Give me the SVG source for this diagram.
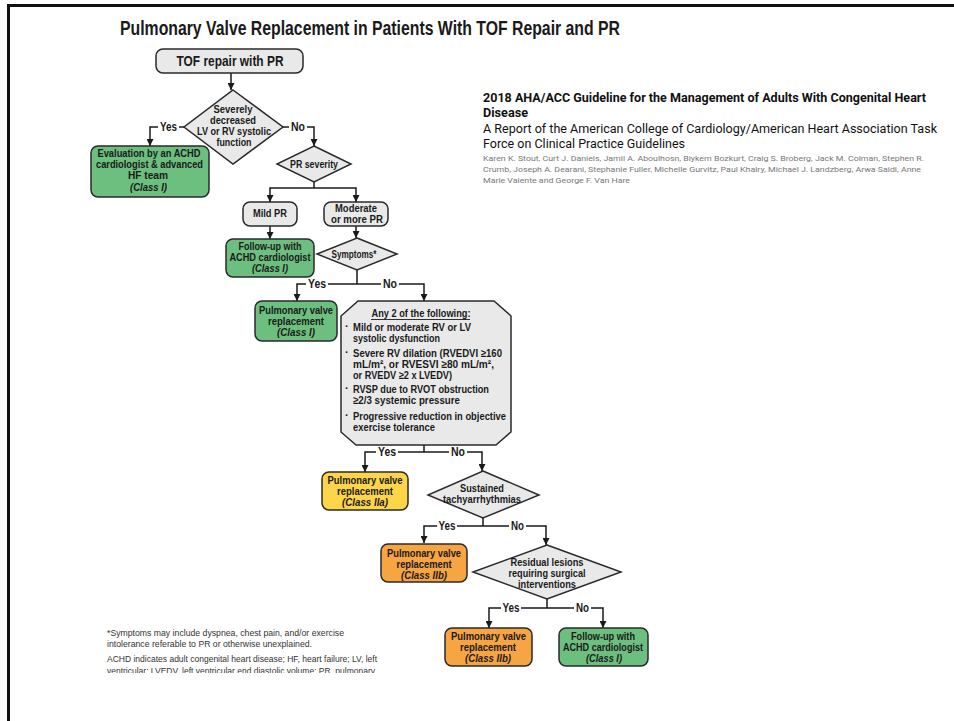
<svg xmlns="http://www.w3.org/2000/svg" width="954" height="721" viewBox="0 0 954 721">
<style>
.t{font-family:"Liberation Sans",Arial,sans-serif;font-weight:bold;fill:#1a1a1a;text-anchor:middle;dominant-baseline:central}
.s{font-size:11px}
.yn{font-size:12.5px}
.l{text-anchor:start}
.box{stroke:#2a2a2a;stroke-width:1.5}
.gray{fill:#e9e9e9}
.green{fill:#6cbf7e}
.yellow{fill:#fdd548}
.orange{fill:#f7a443}
.c{fill:none;stroke:#1a1a1a;stroke-width:1.5}
.hd{font-family:Roboto,"Liberation Sans",sans-serif;fill:#111;dominant-baseline:central}
.au{font-family:Roboto,"Liberation Sans",sans-serif;font-size:8px;fill:#777;dominant-baseline:central}
.fn{font-family:"Liberation Sans",Arial,sans-serif;font-size:9.5px;fill:#333;dominant-baseline:central}
</style>
<defs>
<marker id="ah" viewBox="0 0 10 10" refX="10" refY="5" markerWidth="7" markerHeight="7" markerUnits="userSpaceOnUse" orient="auto">
<path d="M0,0 L10,5 L0,10 z" fill="#1a1a1a"/>
</marker>
<clipPath id="fnclip"><rect x="0" y="600" width="450" height="73"/></clipPath>
</defs>
<rect width="954" height="721" fill="#fff"/>
<g id="frame">
<line x1="7" y1="5.5" x2="954" y2="5.5" stroke="#111" stroke-width="3"/>
<line x1="8.5" y1="4" x2="8.5" y2="721" stroke="#111" stroke-width="3"/>
</g>
<text id="title" class="t" x="370" y="27.5" style="font-size:20px" textLength="500" lengthAdjust="spacingAndGlyphs">Pulmonary Valve Replacement in Patients With TOF Repair and PR</text>

<g id="ref">
<text class="hd" x="483" y="97" style="font-size:12.5px;font-weight:bold" textLength="443" lengthAdjust="spacingAndGlyphs">2018 AHA/ACC Guideline for the Management of Adults With Congenital Heart</text>
<text class="hd" x="483" y="112" style="font-size:12.5px;font-weight:bold" textLength="45" lengthAdjust="spacingAndGlyphs">Disease</text>
<text class="hd" x="483" y="128" style="font-size:12.5px" textLength="454" lengthAdjust="spacingAndGlyphs">A Report of the American College of Cardiology/American Heart Association Task</text>
<text class="hd" x="483" y="143" style="font-size:12.5px" textLength="202" lengthAdjust="spacingAndGlyphs">Force on Clinical Practice Guidelines</text>
<text class="au" x="483" y="158" textLength="441" lengthAdjust="spacingAndGlyphs">Karen K. Stout, Curt J. Daniels, Jamil A. Aboulhosn, Biykem Bozkurt, Craig S. Broberg, Jack M. Colman, Stephen R.</text>
<text class="au" x="483" y="169" textLength="438" lengthAdjust="spacingAndGlyphs">Crumb, Joseph A. Dearani, Stephanie Fuller, Michelle Gurvitz, Paul Khairy, Michael J. Landzberg, Arwa Saidi, Anne</text>
<text class="au" x="483" y="180" textLength="147" lengthAdjust="spacingAndGlyphs">Marie Valente and George F. Van Hare</text>
</g>

<g id="connectors">
<path class="c" d="M231,73 V90" marker-end="url(#ah)"/>
<path class="c" d="M184,127 H179"/>
<path class="c" d="M158,127 H150 V146" marker-end="url(#ah)"/>
<path class="c" d="M283,127 H289"/>
<path class="c" d="M307,127 H314 V146" marker-end="url(#ah)"/>
<path class="c" d="M314,182 V188"/>
<path class="c" d="M314,188 H270 V202" marker-end="url(#ah)"/>
<path class="c" d="M314,188 H356 V202" marker-end="url(#ah)"/>
<path class="c" d="M270,226 V239" marker-end="url(#ah)"/>
<path class="c" d="M356,226 V238" marker-end="url(#ah)"/>
<path class="c" d="M357,270 V284 M328,284 H381"/>
<path class="c" d="M306,284 H297 V301" marker-end="url(#ah)"/>
<path class="c" d="M399,284 H424 V301" marker-end="url(#ah)"/>
<path class="c" d="M424,445 V452 M398,452 H449"/>
<path class="c" d="M376,452 H365 V472" marker-end="url(#ah)"/>
<path class="c" d="M467,452 H482 V471" marker-end="url(#ah)"/>
<path class="c" d="M483,518 V526 M457,526 H509"/>
<path class="c" d="M437,526 H424 V543" marker-end="url(#ah)"/>
<path class="c" d="M526,526 H546 V545" marker-end="url(#ah)"/>
<path class="c" d="M547,599 V608 M521,608 H574"/>
<path class="c" d="M501,608 H489 V628" marker-end="url(#ah)"/>
<path class="c" d="M591,608 H603 V628" marker-end="url(#ah)"/>
<text class="t yn" x="168.5" y="127" textLength="17" lengthAdjust="spacingAndGlyphs">Yes</text>
<text class="t yn" x="298" y="127" textLength="14" lengthAdjust="spacingAndGlyphs">No</text>
<text class="t yn" x="317" y="284" textLength="18" lengthAdjust="spacingAndGlyphs">Yes</text>
<text class="t yn" x="390" y="284" textLength="14" lengthAdjust="spacingAndGlyphs">No</text>
<text class="t yn" x="387" y="452" textLength="18" lengthAdjust="spacingAndGlyphs">Yes</text>
<text class="t yn" x="458" y="452" textLength="14" lengthAdjust="spacingAndGlyphs">No</text>
<text class="t yn" x="447" y="526" textLength="17" lengthAdjust="spacingAndGlyphs">Yes</text>
<text class="t yn" x="517.5" y="526" textLength="13" lengthAdjust="spacingAndGlyphs">No</text>
<text class="t yn" x="511" y="608" textLength="17" lengthAdjust="spacingAndGlyphs">Yes</text>
<text class="t yn" x="582.5" y="608" textLength="13" lengthAdjust="spacingAndGlyphs">No</text>
</g>

<g id="start">
<rect class="box gray" x="156" y="49" width="147" height="24" rx="7"/>
<text class="t" x="230" y="61" style="font-size:14px" textLength="107" lengthAdjust="spacingAndGlyphs">TOF repair with PR</text>
</g>

<g id="d-severe">
<polygon class="box gray" points="233,90 283,127 233,164 184,127"/>
<text class="t s" x="233" y="109" textLength="39" lengthAdjust="spacingAndGlyphs">Severely</text>
<text class="t s" x="233" y="120" textLength="46" lengthAdjust="spacingAndGlyphs">decreased</text>
<text class="t s" x="234" y="131" textLength="74" lengthAdjust="spacingAndGlyphs">LV or RV systolic</text>
<text class="t s" x="234" y="142" textLength="35" lengthAdjust="spacingAndGlyphs">function</text>
</g>

<g id="n-eval">
<rect class="box green" x="91" y="146" width="118" height="51" rx="7"/>
<text class="t s" x="149" y="153" textLength="103" lengthAdjust="spacingAndGlyphs">Evaluation by an ACHD</text>
<text class="t s" x="149.5" y="164" textLength="107" lengthAdjust="spacingAndGlyphs">cardiologist &amp; advanced</text>
<text class="t s" x="148" y="175" textLength="40" lengthAdjust="spacingAndGlyphs">HF team</text>
<text class="t s" x="148.5" y="187" style="font-style:italic" textLength="37" lengthAdjust="spacingAndGlyphs">(Class I)</text>
</g>

<g id="d-prsev">
<polygon class="box gray" points="314,146 351,164 314,182 277,164"/>
<text class="t s" x="314" y="164" textLength="48" lengthAdjust="spacingAndGlyphs">PR severity</text>
</g>

<g id="n-mild">
<rect class="box gray" x="243" y="202" width="54" height="24" rx="7"/>
<text class="t s" x="270" y="213" textLength="34" lengthAdjust="spacingAndGlyphs">Mild PR</text>
</g>

<g id="n-moderate">
<rect class="box gray" x="324" y="202" width="64" height="24" rx="7"/>
<text class="t s" x="356" y="208" textLength="42" lengthAdjust="spacingAndGlyphs">Moderate</text>
<text class="t s" x="357" y="219" textLength="52" lengthAdjust="spacingAndGlyphs">or more PR</text>
</g>

<g id="n-followup1">
<rect class="box green" x="226" y="239" width="88" height="38" rx="7"/>
<text class="t s" x="270" y="246" textLength="63" lengthAdjust="spacingAndGlyphs">Follow-up with</text>
<text class="t s" x="270" y="257" textLength="81" lengthAdjust="spacingAndGlyphs">ACHD cardiologist</text>
<text class="t s" x="270" y="268" style="font-style:italic" textLength="36" lengthAdjust="spacingAndGlyphs">(Class I)</text>
</g>

<g id="d-symptoms">
<polygon class="box gray" points="357,238 397,254 357,270 317,254"/>
<text class="t s" x="354" y="254" textLength="45" lengthAdjust="spacingAndGlyphs">Symptoms*</text>
</g>

<g id="n-pvr1">
<rect class="box green" x="255" y="301" width="82" height="40" rx="7"/>
<text class="t s" x="296" y="310" textLength="74" lengthAdjust="spacingAndGlyphs">Pulmonary valve</text>
<text class="t s" x="296" y="321" textLength="56" lengthAdjust="spacingAndGlyphs">replacement</text>
<text class="t s" x="296" y="332" style="font-style:italic" textLength="38" lengthAdjust="spacingAndGlyphs">(Class I)</text>
</g>

<g id="n-any2">
<polygon class="box gray" points="358,301 494,301 511,316 511,432 496,445 356,445 341,432 341,316"/>
<text class="t s" x="421" y="313" textLength="99" lengthAdjust="spacingAndGlyphs">Any 2 of the following:</text>
<line x1="371" y1="319.5" x2="470" y2="319.5" stroke="#1a1a1a" stroke-width="0.9"/>
<g class="t s l">
<text x="345" y="326">·</text>
<text x="353" y="327" textLength="118" lengthAdjust="spacingAndGlyphs">Mild or moderate RV or LV</text>
<text x="353" y="338" textLength="87" lengthAdjust="spacingAndGlyphs">systolic dysfunction</text>
<text x="345" y="352">·</text>
<text x="353" y="353" textLength="149" lengthAdjust="spacingAndGlyphs">Severe RV dilation (RVEDVI ≥160</text>
<text x="353" y="364" textLength="141" lengthAdjust="spacingAndGlyphs">mL/m², or RVESVI ≥80 mL/m²,</text>
<text x="353" y="375" textLength="99" lengthAdjust="spacingAndGlyphs">or RVEDV ≥2 x LVEDV)</text>
<text x="345" y="388">·</text>
<text x="353" y="389" textLength="136" lengthAdjust="spacingAndGlyphs">RVSP due to RVOT obstruction</text>
<text x="353" y="400" textLength="107" lengthAdjust="spacingAndGlyphs">≥2/3 systemic pressure</text>
<text x="345" y="415">·</text>
<text x="353" y="416" textLength="153" lengthAdjust="spacingAndGlyphs">Progressive reduction in objective</text>
<text x="353" y="427" textLength="82" lengthAdjust="spacingAndGlyphs">exercise tolerance</text>
</g>
</g>

<g id="n-pvr2a">
<rect class="box yellow" x="322" y="472" width="86" height="38" rx="7"/>
<text class="t s" x="365" y="480" textLength="75" lengthAdjust="spacingAndGlyphs">Pulmonary valve</text>
<text class="t s" x="365" y="491" textLength="56" lengthAdjust="spacingAndGlyphs">replacement</text>
<text class="t s" x="365" y="502" style="font-style:italic" textLength="46" lengthAdjust="spacingAndGlyphs">(Class IIa)</text>
</g>

<g id="d-sustained">
<polygon class="box gray" points="483,471 539,495 483,518 428,495"/>
<text class="t s" x="482" y="488" textLength="44" lengthAdjust="spacingAndGlyphs">Sustained</text>
<text class="t s" x="482" y="499" textLength="78" lengthAdjust="spacingAndGlyphs">tachyarrhythmias</text>
</g>

<g id="n-pvr2b">
<rect class="box orange" x="381" y="544" width="86" height="38" rx="7"/>
<text class="t s" x="424" y="553" textLength="74" lengthAdjust="spacingAndGlyphs">Pulmonary valve</text>
<text class="t s" x="424" y="564" textLength="55" lengthAdjust="spacingAndGlyphs">replacement</text>
<text class="t s" x="424" y="575" style="font-style:italic" textLength="46" lengthAdjust="spacingAndGlyphs">(Class IIb)</text>
</g>

<g id="d-residual">
<polygon class="box gray" points="547,545 621,572 547,599 473,572"/>
<text class="t s" x="547" y="562" textLength="73" lengthAdjust="spacingAndGlyphs">Residual lesions</text>
<text class="t s" x="547" y="573" textLength="77" lengthAdjust="spacingAndGlyphs">requiring surgical</text>
<text class="t s" x="547" y="584" textLength="58" lengthAdjust="spacingAndGlyphs">interventions</text>
</g>

<g id="n-pvr3">
<rect class="box orange" x="445" y="628" width="87" height="38" rx="7"/>
<text class="t s" x="488.5" y="636" textLength="75" lengthAdjust="spacingAndGlyphs">Pulmonary valve</text>
<text class="t s" x="488" y="647" textLength="56" lengthAdjust="spacingAndGlyphs">replacement</text>
<text class="t s" x="488" y="658" style="font-style:italic" textLength="46" lengthAdjust="spacingAndGlyphs">(Class IIb)</text>
</g>

<g id="n-followup2">
<rect class="box green" x="559" y="628" width="89" height="38" rx="7"/>
<text class="t s" x="603" y="636" textLength="64" lengthAdjust="spacingAndGlyphs">Follow-up with</text>
<text class="t s" x="603" y="647" textLength="80" lengthAdjust="spacingAndGlyphs">ACHD cardiologist</text>
<text class="t s" x="604" y="658" style="font-style:italic" textLength="36" lengthAdjust="spacingAndGlyphs">(Class I)</text>
</g>

<g id="footnote" clip-path="url(#fnclip)">
<text class="fn" x="107" y="632" textLength="237" lengthAdjust="spacingAndGlyphs">*Symptoms may include dyspnea, chest pain, and/or exercise</text>
<text class="fn" x="107" y="643" textLength="205" lengthAdjust="spacingAndGlyphs">intolerance referable to PR or otherwise unexplained.</text>
<text class="fn" x="107" y="658" textLength="270" lengthAdjust="spacingAndGlyphs">ACHD indicates adult congenital heart disease; HF, heart failure; LV, left</text>
<text class="fn" x="107" y="670" textLength="268" lengthAdjust="spacingAndGlyphs">ventricular; LVEDV, left ventricular end diastolic volume; PR, pulmonary</text>
</g>
</svg>
